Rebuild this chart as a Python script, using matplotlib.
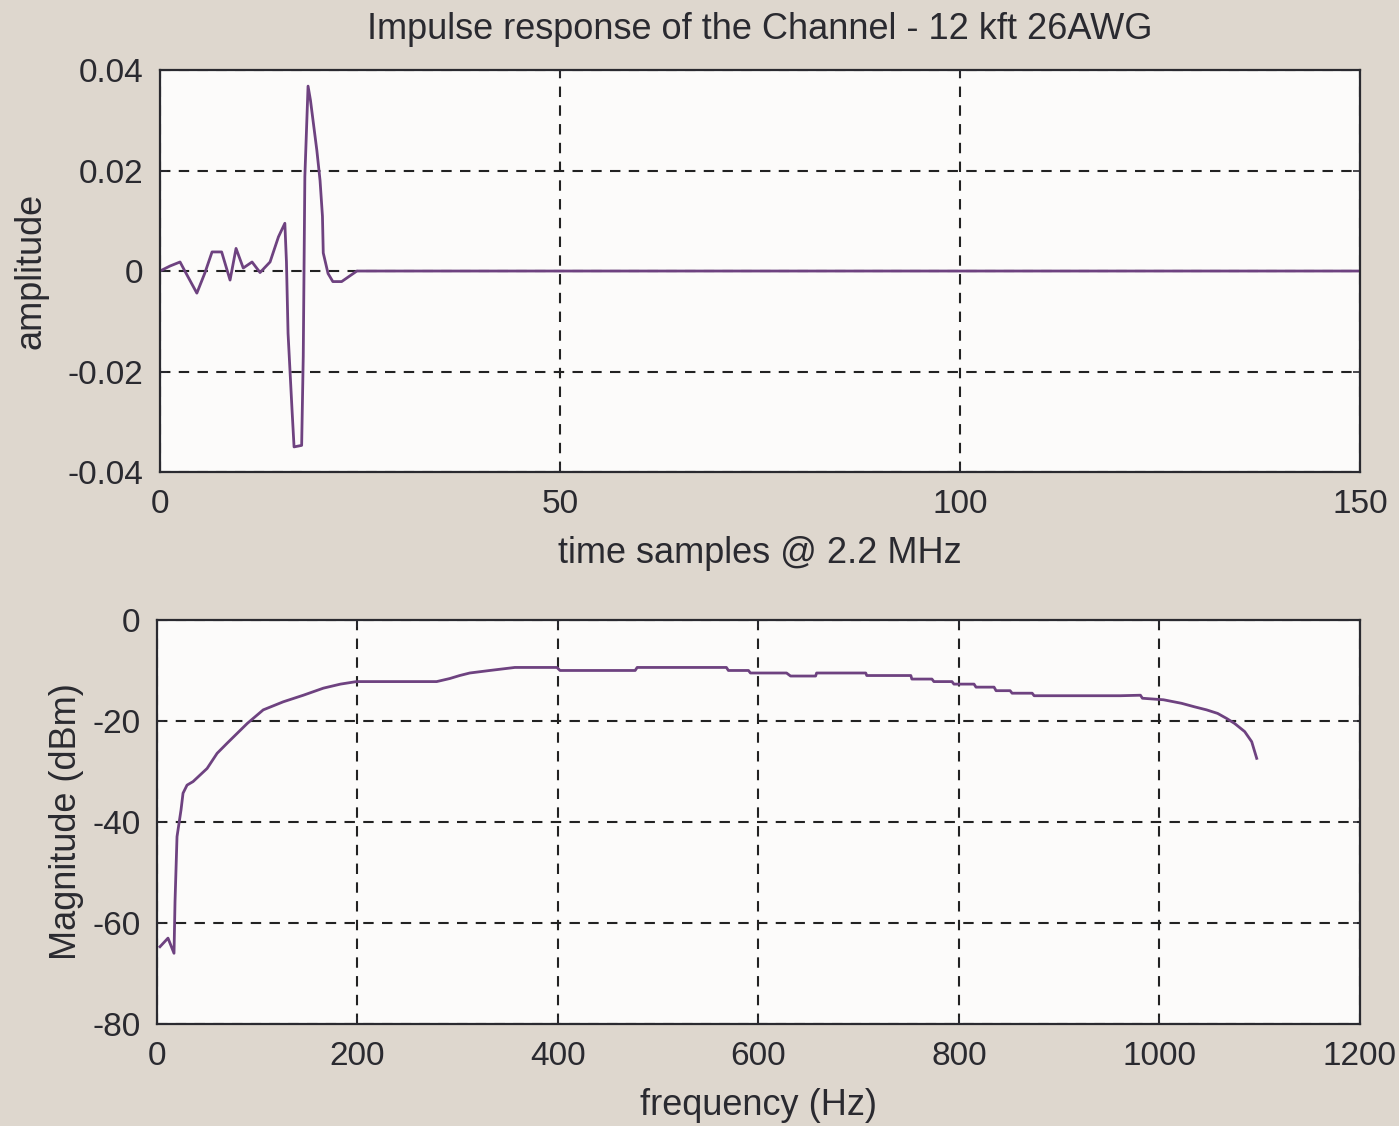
import matplotlib
matplotlib.use("Agg")
import matplotlib.pyplot as plt

# impulse response (samples, amplitude)
t_samples = [0, 1.25, 2.5, 3.1, 4.6, 5.6, 6.5, 7.7, 8.75, 9.5, 10.4, 11.5, 12.5,
             13.75, 14.8, 15.6, 15.8, 16.0, 16.5, 16.75, 17.7, 17.9, 18.1, 18.5,
             18.8, 19.2, 19.6, 20.0, 20.3, 20.4, 21.0, 21.6, 22.7, 24.6, 150]
amplitude = [0, 0.001, 0.0018, 0, -0.0044, -0.0004, 0.0038, 0.0038, -0.0018,
             0.0045, 0.0006, 0.0018, -0.0003, 0.0018, 0.0068, 0.0095, 0.0018,
             -0.0124, -0.0277, -0.035, -0.0347, -0.017, 0.0188, 0.0368, 0.034,
             0.029, 0.024, 0.018, 0.0109, 0.0036, -0.0005, -0.0021, -0.0021, 0, 0]

# magnitude response (Hz, dBm)
freq = [3, 11, 17, 18, 20, 24, 26, 30, 36, 50, 60, 70, 90, 106, 126, 146, 166,
        183, 199, 279, 292, 302, 312, 332, 357, 399, 402, 477, 479, 568, 570,
        590, 592, 628, 632, 657, 658, 707, 708, 752, 753, 773, 775, 793, 795,
        815, 817, 835, 837, 851, 853, 873, 875, 961, 981, 983, 1004, 1022, 1035,
        1047, 1058, 1067, 1075, 1085, 1092, 1097]
magnitude = [-64.7, -63, -66, -55.8, -42.9, -37.6, -34.3, -32.7, -32, -29.4,
             -26.4, -24.4, -20.5, -17.8, -16.2, -14.9, -13.5, -12.7, -12.2,
             -12.2, -11.6, -11.0, -10.5, -10.0, -9.4, -9.4, -10.0, -10.0, -9.4,
             -9.4, -10.0, -10.0, -10.5, -10.5, -11.1, -11.1, -10.5, -10.5, -11.0,
             -11.0, -11.7, -11.7, -12.2, -12.2, -12.7, -12.7, -13.3, -13.3, -14.0,
             -14.0, -14.5, -14.5, -15.0, -15.0, -14.9, -15.5, -15.8, -16.5, -17.2,
             -17.8, -18.5, -19.5, -20.5, -22.1, -24.1, -27.4]

top_xticks = [0, 50, 100, 150]
top_yticks = [-0.04, -0.02, 0, 0.02, 0.04]
top_yticklabels = ["-0.04", "-0.02", "0", "0.02", "0.04"]
bot_xticks = [0, 200, 400, 600, 800, 1000, 1200]
bot_yticks = [-80, -60, -40, -20, 0]

plt.rcParams["font.family"] = ["Liberation Sans", "DejaVu Sans"]
plt.rcParams["font.size"] = 24
plt.rcParams["axes.unicode_minus"] = False

bg = "#ded7ce"
face = "#fcfbfa"
purple = "#6e4280"
ink = "#2a2a30"

fig = plt.figure(figsize=(13.99, 11.26), dpi=100, facecolor=bg)
ax1 = fig.add_axes([0.1144, 0.5808, 0.8578, 0.357])
ax2 = fig.add_axes([0.1122, 0.0906, 0.8599, 0.3588])


def style(ax):
    ax.set_facecolor(face)
    for s in ax.spines.values():
        s.set_linewidth(1.6)
        s.set_color(ink)
    ax.tick_params(direction="in", length=5, width=1.2, color=ink,
                   top=True, right=True, pad=12, labelsize=24, labelcolor=ink)
    ax.grid(True, color="#222222", linestyle=(0, (5, 4)), linewidth=1.5)
    ax.set_axisbelow(True)


ax1.plot(t_samples, amplitude, color=purple, linewidth=2.0)
ax1.set_xlim(0, 150)
ax1.set_ylim(-0.04, 0.04)
ax1.set_xticks(top_xticks)
ax1.set_yticks(top_yticks)
ax1.set_yticklabels(top_yticklabels)
style(ax1)
ax1.set_xlabel("time samples @ 2.2 MHz", fontsize=26, color=ink, labelpad=12)
ax1.set_ylabel("amplitude", fontsize=26, color=ink, labelpad=14)
ax1.set_title("Impulse response of the Channel - 12 kft 26AWG", fontsize=26,
              color=ink, pad=22)

ax2.plot(freq, magnitude, color=purple, linewidth=2.0)
ax2.set_xlim(0, 1200)
ax2.set_ylim(-80, 0)
ax2.set_xticks(bot_xticks)
ax2.set_yticks(bot_yticks)
style(ax2)
ax2.set_xlabel("frequency (Hz)", fontsize=26, color=ink, labelpad=12)
ax2.set_ylabel("Magnitude (dBm)", fontsize=26, color=ink, labelpad=6)

fig.savefig("out.png", dpi=100, facecolor=bg)
